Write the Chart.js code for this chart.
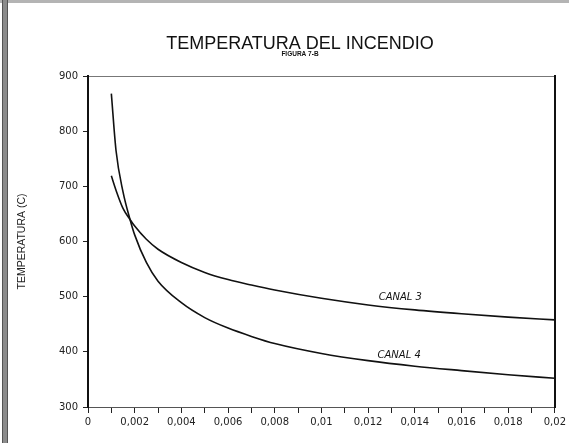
<!DOCTYPE html>
<html>
<head>
<meta charset="utf-8">
<script src="https://cdn.jsdelivr.net/npm/chart.js@4/dist/chart.umd.min.js"></script>
<style>
  html, body { margin: 0; padding: 0; background: #fff; }
  #wrap { width: 569px; height: 443px; position: relative; }
</style>
</head>
<body>
<div id="wrap"><canvas id="c" width="569" height="443"></canvas></div>
<script>
// ---- data ----
const xValues = [0.001, 0.0012, 0.0015, 0.0018, 0.002, 0.0025, 0.003, 0.004, 0.005, 0.006, 0.007, 0.008, 0.01, 0.012, 0.014, 0.016, 0.018, 0.02];
const canal3  = [719, 693, 660, 640, 628, 604, 586, 562, 544, 531, 521, 512, 497, 485, 476, 469, 463, 458];
const canal4  = [868, 765, 690, 640, 612, 562, 528, 489, 462, 443, 428, 415, 397, 384, 374, 366, 358.5, 352];
const xTickLabels = ['0', '0,002', '0,004', '0,006', '0,008', '0,01', '0,012', '0,014', '0,016', '0,018', '0,02'];
const curveLabels = ['CANAL 3', 'CANAL 4'];
const curveLabelX = [0.01338, 0.01333];
const curveLabelY = [499, 394];
const titleText = 'TEMPERATURA DEL INCENDIO';
const subtitleText = 'FIGURA 7-B';
const yTitle = 'TEMPERATURA (C)';

const toPoints = ys => xValues.map((x, i) => ({ x: x, y: ys[i] }));

const framePlugin = {
  id: 'frame',
  beforeDraw(chart) {
    const ctx = chart.ctx;
    ctx.save();
    ctx.fillStyle = '#fff';
    ctx.fillRect(0, 0, chart.width, chart.height);
    // scanned page edges
    ctx.fillStyle = '#b4b4b4';
    ctx.fillRect(0, 0, chart.width, 3);
    ctx.fillStyle = '#8c8c8c';
    ctx.fillRect(2, 0, 6, chart.height);
    ctx.fillStyle = '#555';
    ctx.fillRect(2, 0, 1, chart.height);
    ctx.fillRect(7, 0, 1, chart.height);
    ctx.restore();
  },
  afterDraw(chart) {
    const ctx = chart.ctx;
    ctx.save();
    ctx.fillStyle = '#111';
    ctx.textAlign = 'center';
    ctx.textBaseline = 'middle';
    ctx.font = '18px "Liberation Sans", Arial, sans-serif';
    ctx.fillText(titleText, 300, 44);
    ctx.font = 'bold 6.5px "Liberation Sans", Arial, sans-serif';
    ctx.fillText(subtitleText, 300, 54);
    // curve labels placed through the scales
    const xs = chart.scales.x, ys = chart.scales.y;
    ctx.font = 'italic 10px "DejaVu Sans", sans-serif';
    curveLabels.forEach((t, i) => {
      ctx.fillText(t, xs.getPixelForValue(curveLabelX[i]), ys.getPixelForValue(curveLabelY[i]));
    });
    ctx.restore();
  }
};

new Chart(document.getElementById('c'), {
  type: 'line',
  data: {
    datasets: [
      { label: 'CANAL 3', data: toPoints(canal3), borderColor: '#111', borderWidth: 1.6, pointRadius: 0, cubicInterpolationMode: 'monotone', fill: false },
      { label: 'CANAL 4', data: toPoints(canal4), borderColor: '#111', borderWidth: 1.6, pointRadius: 0, cubicInterpolationMode: 'monotone', fill: false }
    ]
  },
  options: {
    responsive: false,
    animation: false,
    events: [],
    layout: { padding: 0 },
    plugins: {
      legend: { display: false },
      title: { display: false },
      tooltip: { enabled: false }
    },
    scales: {
      x: {
        type: 'linear',
        position: 'bottom',
        min: 0, max: 0.02,
        afterFit(s) { s.height = 36; },
        grid: { drawOnChartArea: false, drawTicks: true, tickLength: 6, color: '#222', tickWidth: 1 },
        border: { display: true, color: '#555', width: 1, dash: [2, 2] },
        ticks: {
          stepSize: 0.001,
          autoSkip: false,
          maxRotation: 0,
          padding: 3,
          color: '#222',
          font: { family: '"DejaVu Sans", sans-serif', size: 10 },
          callback: (v, i) => (i % 2 === 0 ? xTickLabels[i / 2] : '')
        }
      },
      x2: {
        type: 'linear',
        position: 'top',
        min: 0, max: 0.02,
        afterFit(s) { s.height = 76; },
        grid: { display: false },
        ticks: { display: false },
        border: { display: true, color: '#777', width: 1, dash: [3, 2] }
      },
      y: {
        type: 'linear',
        position: 'left',
        min: 300, max: 900,
        afterFit(s) { s.width = 88; },
        grid: { drawOnChartArea: false, drawTicks: true, tickLength: 5, color: '#222', tickWidth: 1 },
        border: { display: true, color: '#111', width: 2 },
        ticks: {
          stepSize: 100,
          padding: 5,
          color: '#222',
          font: { family: '"DejaVu Sans", sans-serif', size: 10 }
        },
        title: {
          display: true,
          text: yTitle,
          color: '#222',
          font: { family: '"Liberation Sans", Arial, sans-serif', size: 10.5 },
          padding: { top: 16, bottom: 0 }
        }
      },
      y2: {
        type: 'linear',
        position: 'right',
        min: 300, max: 900,
        afterFit(s) { s.width = 13; },
        grid: { display: false },
        ticks: { display: false },
        border: { display: true, color: '#111', width: 2 }
      }
    }
  },
  plugins: [framePlugin]
});
</script>
</body>
</html>
